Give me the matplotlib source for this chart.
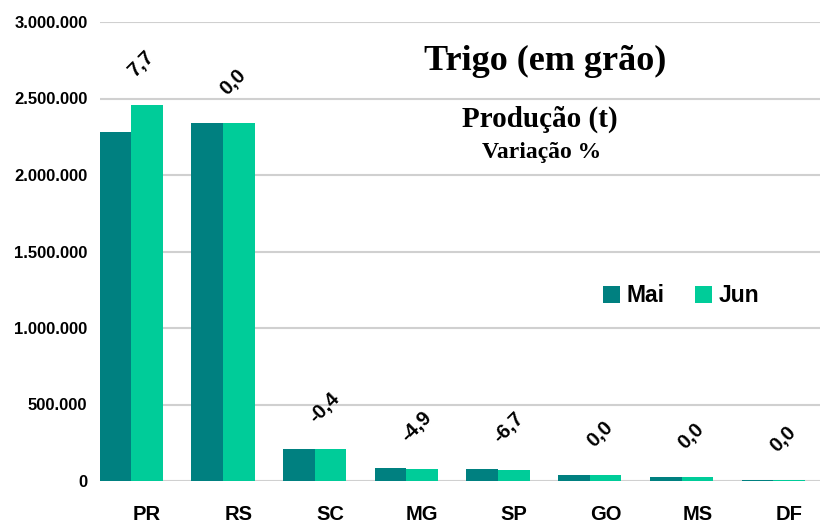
import matplotlib
matplotlib.use("Agg")
import matplotlib.pyplot as plt
import matplotlib.transforms as mtransforms
import numpy as np

categories = ["PR", "RS", "SC", "MG", "SP", "GO", "MS", "DF"]
mai = [2281000, 2340000, 209000, 85000, 80000, 39000, 27000, 8000]
jun = [2456000, 2340000, 208000, 81000, 75000, 39000, 27000, 8000]
variacao = ["7,7", "0,0", "-0,4", "-4,9", "-6,7", "0,0", "0,0", "0,0"]
yticks = [0, 500000, 1000000, 1500000, 2000000, 2500000, 3000000]
ytick_labels = ["0", "500.000", "1.000.000", "1.500.000", "2.000.000", "2.500.000", "3.000.000"]

c_mai = "#008080"
c_jun = "#00CC99"

fig = plt.figure(figsize=(8.25, 5.22), dpi=100)
ax = fig.add_axes([100/825, 1-481/522, 720/825, 459/522])

x = np.arange(len(categories))
w = 0.345
ax.bar(x - w/2, mai, w, color=c_mai, label="Mai", zorder=3)
ax.bar(x + w/2, jun, w, color=c_jun, label="Jun", zorder=3)

ax.set_ylim(0, 3000000)
ax.set_xlim(-0.34, 7.51)
ax.set_yticks(yticks)
ax.set_yticklabels(ytick_labels, fontfamily="Liberation Sans", fontweight="bold", fontsize=12)
ax.set_xticks(x)
ax.set_xticklabels(categories, fontfamily="Liberation Sans", fontweight="bold", fontsize=14.5)
ax.tick_params(axis="y", length=0, pad=9)
ax.tick_params(axis="x", length=0, pad=17)
shift = mtransforms.ScaledTranslation(16/100, 0, fig.dpi_scale_trans)
for lbl in ax.get_xticklabels():
    lbl.set_transform(lbl.get_transform() + shift)
ax.grid(axis="y", color="#d0d0d0", linewidth=1.5, zorder=0)
for s in ax.spines.values():
    s.set_visible(False)

for i, lab in enumerate(variacao):
    top = max(mai[i], jun[i])
    ax.annotate(lab, xy=(i, top), xytext=(10, 41), textcoords="offset pixels",
                rotation=45, ha="center", va="center",
                fontfamily="Liberation Sans", fontweight="bold", fontsize=14.5)

fig.text(545/825, 1-70/522, "Trigo (em grão)", fontfamily="Liberation Serif",
         fontweight="bold", fontsize=26, ha="center", va="baseline")
fig.text(540/825, 1-127/522, "Produção (t)", fontfamily="Liberation Serif",
         fontweight="bold", fontsize=21, ha="center", va="baseline")
fig.text(542/825, 1-158/522, "Variação %", fontfamily="Liberation Serif",
         fontweight="bold", fontsize=17, ha="center", va="baseline")

leg = ax.legend(loc="center", bbox_to_anchor=(681/825, 1-296/522), bbox_transform=fig.transFigure,
                ncol=2, frameon=False, handlelength=0.75, handleheight=0.75,
                handletextpad=0.3, columnspacing=1.3,
                prop={"family": "Liberation Sans", "weight": "bold", "size": 16.5})

fig.savefig("out.png", dpi=100)
